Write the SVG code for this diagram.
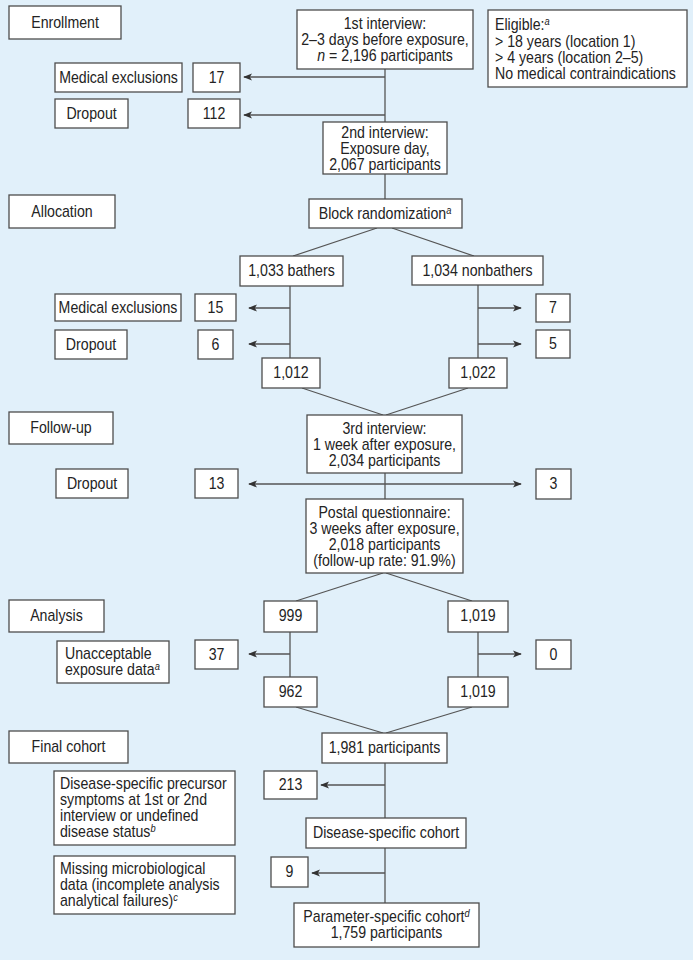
<svg xmlns="http://www.w3.org/2000/svg" width="693" height="960" viewBox="0 0 693 960">
<defs>
<style>
.bg{fill:#e1f0fa}
.box{fill:#fff;stroke:#4d4d4d;stroke-width:1.3}
.t{font-family:'Liberation Sans',Arial,sans-serif;font-size:16px;fill:#232323;transform-box:fill-box;transform-origin:50% 50%;transform:scaleX(0.885)}
.c{text-anchor:middle}
.l{transform-origin:0% 50%}
.sup{font-size:10.5px;font-style:italic}
.ln{stroke:#555;stroke-width:1.3;fill:none}
.ar{marker-end:url(#ah)}
</style>
<marker id="ah" viewBox="0 0 10 8" refX="9" refY="4" markerWidth="9" markerHeight="7.2" markerUnits="userSpaceOnUse" orient="auto-start-reverse">
<path d="M0,0 L10,4 L0,8 L2.5,4 Z" fill="#333"/>
</marker>
</defs>
<rect class="bg" x="0" y="0" width="693" height="960"/>

<g id="connectors">
<line class="ln" x1="385" y1="69" x2="385" y2="122"/>
<line class="ln ar" x1="385" y1="77" x2="244" y2="77"/>
<line class="ln ar" x1="385" y1="115" x2="244" y2="115"/>
<line class="ln" x1="385" y1="174" x2="385" y2="199"/>
<line class="ln" x1="377" y1="228" x2="293" y2="256"/>
<line class="ln" x1="392" y1="228" x2="474" y2="256"/>
<line class="ln" x1="290" y1="286" x2="290" y2="358"/>
<line class="ln ar" x1="290" y1="308" x2="249" y2="308"/>
<line class="ln ar" x1="290" y1="344" x2="249" y2="344"/>
<line class="ln" x1="478" y1="285" x2="478" y2="358"/>
<line class="ln ar" x1="478" y1="308" x2="521" y2="308"/>
<line class="ln ar" x1="478" y1="344" x2="521" y2="344"/>
<line class="ln" x1="302" y1="388" x2="383" y2="415"/>
<line class="ln" x1="468" y1="388" x2="386" y2="415"/>
<line class="ln" x1="385" y1="473" x2="385" y2="499"/>
<line class="ln" x1="249" y1="484" x2="521" y2="484" marker-start="url(#ah)" marker-end="url(#ah)"/>
<line class="ln" x1="383" y1="573" x2="296" y2="601"/>
<line class="ln" x1="386" y1="573" x2="472" y2="601"/>
<line class="ln" x1="290" y1="632" x2="290" y2="677"/>
<line class="ln ar" x1="290" y1="654" x2="249" y2="654"/>
<line class="ln" x1="478" y1="632" x2="478" y2="677"/>
<line class="ln ar" x1="478" y1="654" x2="521" y2="654"/>
<line class="ln" x1="296" y1="707" x2="383" y2="733"/>
<line class="ln" x1="472" y1="707" x2="386" y2="733"/>
<line class="ln" x1="385" y1="763" x2="385" y2="818"/>
<line class="ln ar" x1="385" y1="785" x2="321" y2="785"/>
<line class="ln" x1="385" y1="848" x2="385" y2="903"/>
<line class="ln ar" x1="385" y1="873" x2="312" y2="873"/>
</g>

<g id="enrollment"><rect class="box" x="9" y="6" width="112" height="33"/><text class="t c" x="65" y="28">Enrollment</text></g>
<g id="interview1"><rect class="box" x="297" y="10" width="176" height="59"/>
<text class="t c" x="385" y="29">1st interview:</text>
<text class="t c" x="385" y="45">2–3 days before exposure,</text>
<text class="t c" x="385" y="61"><tspan font-style="italic">n</tspan> = 2,196 participants</text></g>
<g id="eligible"><rect class="box" x="488" y="10" width="199" height="77"/>
<text class="t l" x="495" y="30">Eligible:<tspan class="sup" dy="-5">a</tspan></text>
<text class="t l" x="495" y="47">&gt; 18 years (location 1)</text>
<text class="t l" x="495" y="63">&gt; 4 years (location 2–5)</text>
<text class="t l" x="495" y="79">No medical contraindications</text></g>
<g id="medex1"><rect class="box" x="55" y="63" width="127" height="29"/><text class="t c" x="118.5" y="83">Medical exclusions</text></g>
<g id="n17"><rect class="box" x="193" y="63" width="47" height="29"/><text class="t c" x="216.5" y="83">17</text></g>
<g id="dropout1"><rect class="box" x="55" y="99" width="73" height="29"/><text class="t c" x="91.5" y="119">Dropout</text></g>
<g id="n112"><rect class="box" x="188" y="99" width="52" height="29"/><text class="t c" x="214" y="119">112</text></g>
<g id="interview2"><rect class="box" x="323" y="122" width="124" height="52"/>
<text class="t c" x="385" y="138">2nd interview:</text>
<text class="t c" x="385" y="154">Exposure day,</text>
<text class="t c" x="385" y="170">2,067 participants</text></g>

<g id="allocation"><rect class="box" x="9" y="195" width="106" height="33"/><text class="t c" x="62" y="217">Allocation</text></g>
<g id="block"><rect class="box" x="309" y="199" width="153" height="29"/><text class="t c" x="385" y="219">Block randomization<tspan class="sup" dy="-5">a</tspan></text></g>
<g id="bathers"><rect class="box" x="240" y="256" width="103" height="30"/><text class="t c" x="291.5" y="276">1,033 bathers</text></g>
<g id="nonbathers"><rect class="box" x="412" y="256" width="131" height="29"/><text class="t c" x="477.5" y="276">1,034 nonbathers</text></g>
<g id="medex2"><rect class="box" x="55" y="294" width="126" height="27"/><text class="t c" x="118" y="313">Medical exclusions</text></g>
<g id="n15"><rect class="box" x="195" y="294" width="41" height="27"/><text class="t c" x="215.5" y="313">15</text></g>
<g id="dropout2"><rect class="box" x="55" y="330" width="72" height="29"/><text class="t c" x="91" y="350">Dropout</text></g>
<g id="n6"><rect class="box" x="198" y="330" width="35" height="29"/><text class="t c" x="215.5" y="350">6</text></g>
<g id="n7"><rect class="box" x="536" y="294" width="34" height="28"/><text class="t c" x="553" y="313">7</text></g>
<g id="n5"><rect class="box" x="536" y="330" width="34" height="28"/><text class="t c" x="553" y="349">5</text></g>
<g id="n1012"><rect class="box" x="262" y="358" width="58" height="30"/><text class="t c" x="291" y="378">1,012</text></g>
<g id="n1022"><rect class="box" x="449" y="358" width="58" height="30"/><text class="t c" x="478" y="378">1,022</text></g>

<g id="followup"><rect class="box" x="9" y="412" width="104" height="32"/><text class="t c" x="61" y="433">Follow-up</text></g>
<g id="interview3"><rect class="box" x="307" y="415" width="155" height="58"/>
<text class="t c" x="384.5" y="434">3rd interview:</text>
<text class="t c" x="384.5" y="450">1 week after exposure,</text>
<text class="t c" x="384.5" y="466">2,034 participants</text></g>
<g id="dropout3"><rect class="box" x="56" y="469" width="72" height="29"/><text class="t c" x="92" y="489">Dropout</text></g>
<g id="n13"><rect class="box" x="195" y="469" width="43" height="29"/><text class="t c" x="216.5" y="489">13</text></g>
<g id="n3"><rect class="box" x="536" y="469" width="35" height="30"/><text class="t c" x="553.5" y="489">3</text></g>
<g id="postal"><rect class="box" x="306" y="499" width="157" height="74"/>
<text class="t c" x="384.5" y="518">Postal questionnaire:</text>
<text class="t c" x="384.5" y="534">3 weeks after exposure,</text>
<text class="t c" x="384.5" y="550">2,018 participants</text>
<text class="t c" x="384.5" y="566">(follow-up rate: 91.9%)</text></g>

<g id="analysis"><rect class="box" x="9" y="600" width="95" height="32"/><text class="t c" x="56.5" y="621">Analysis</text></g>
<g id="n999"><rect class="box" x="264" y="601" width="53" height="31"/><text class="t c" x="290.5" y="621">999</text></g>
<g id="n1019a"><rect class="box" x="448" y="601" width="60" height="31"/><text class="t c" x="478" y="621">1,019</text></g>
<g id="unacc"><rect class="box" x="57" y="641" width="112" height="42"/>
<text class="t l" x="65" y="659">Unacceptable</text>
<text class="t l" x="65" y="675">exposure data<tspan class="sup" dy="-5">a</tspan></text></g>
<g id="n37"><rect class="box" x="195" y="640" width="43" height="29"/><text class="t c" x="216.5" y="660">37</text></g>
<g id="n0"><rect class="box" x="536" y="640" width="35" height="29"/><text class="t c" x="553.5" y="660">0</text></g>
<g id="n962"><rect class="box" x="264" y="677" width="53" height="30"/><text class="t c" x="290.5" y="697">962</text></g>
<g id="n1019b"><rect class="box" x="448" y="677" width="60" height="30"/><text class="t c" x="478" y="697">1,019</text></g>

<g id="finalcohort"><rect class="box" x="9" y="731" width="119" height="32"/><text class="t c" x="68.5" y="752">Final cohort</text></g>
<g id="n1981"><rect class="box" x="322" y="733" width="125" height="30"/><text class="t c" x="384.5" y="753">1,981 participants</text></g>
<g id="precursor"><rect class="box" x="54" y="771" width="181" height="74"/>
<text class="t l" x="60" y="789">Disease-specific precursor</text>
<text class="t l" x="60" y="805">symptoms at 1st or 2nd</text>
<text class="t l" x="60" y="821">interview or undefined</text>
<text class="t l" x="60" y="837">disease status<tspan class="sup" dy="-5">b</tspan></text></g>
<g id="n213"><rect class="box" x="264" y="771" width="53" height="28"/><text class="t c" x="290.5" y="790">213</text></g>
<g id="diseasecohort"><rect class="box" x="306" y="818" width="160" height="30"/><text class="t c" x="386" y="838">Disease-specific cohort</text></g>
<g id="missing"><rect class="box" x="54" y="856" width="181" height="58"/>
<text class="t l" x="60" y="874">Missing microbiological</text>
<text class="t l" x="60" y="890">data (incomplete analysis</text>
<text class="t l" x="60" y="906">analytical failures)<tspan class="sup" dy="-5">c</tspan></text></g>
<g id="n9"><rect class="box" x="271" y="857" width="37" height="30"/><text class="t c" x="289.5" y="877">9</text></g>
<g id="paramcohort"><rect class="box" x="294" y="903" width="185" height="44"/>
<text class="t c" x="386.5" y="922">Parameter-specific cohort<tspan class="sup" dy="-5">d</tspan></text>
<text class="t c" x="386.5" y="938">1,759 participants</text></g>
</svg>
